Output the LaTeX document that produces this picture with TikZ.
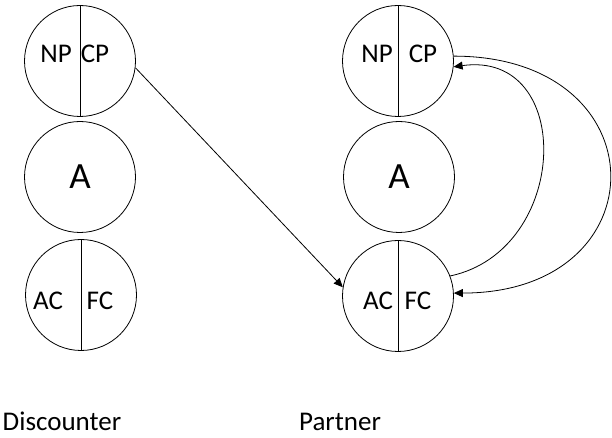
\documentclass[tikz,border=0pt]{standalone}
\usepackage{fontspec}
\setmainfont{Carlito}
\usepackage{tikz}
\usetikzlibrary{arrows.meta,positioning,shapes}

\begin{document}
\begin{tikzpicture}[x=1pt,y=1pt,line width=.8pt,
  ball/.style={draw,circle,minimum size=111pt,inner sep=0pt},
  lbl/.style={font=\fontsize{27}{30}\selectfont},
  big/.style={font=\fontsize{37}{40}\selectfont},
  flow/.style={-{Triangle[length=9pt,width=8pt]}}]
\useasboundingbox (0,0) rectangle (612,438);
% discounter
\node[ball] (dtop) at (80,377) {};
\node[ball,big] (dmid) at (80,261) {A};
\node[ball] (dbot) at (81,143) {};
\draw (dtop.north) -- (dtop.south);
\draw (dbot.north) -- (dbot.south);
\node[lbl] (dnp) at (56,384) {NP};
\node[lbl] (dcp) at (95,384) {CP};
\node[lbl] (dac) at (48,137) {AC};
\node[lbl] (dfc) at (100,137) {FC};
% partner
\node[ball] (ptop) at (398,377) {};
\node[ball,big] (pmid) at (399,261) {A};
\node[ball] (pbot) at (398,142) {};
\draw (ptop.north) -- (ptop.south);
\draw (pbot.north) -- (pbot.south);
\node[lbl] (pnp) at (377,384) {NP};
\node[lbl] (pcp) at (423,384) {CP};
\node[lbl] (pac) at (378,137) {AC};
\node[lbl] (pfc) at (418,137) {FC};
% names
\node[lbl,anchor=base] (disc) at (62,7) {Discounter};
\node[lbl,anchor=base] (part) at (340,7) {Partner};
% arrows
\draw[flow] (dtop.-7) -- (pbot.171);
\draw[flow] (pbot.21) to[out=12,in=8,looseness=1.5] (ptop.-6);
\draw[flow] (ptop.5) to[out=0,in=0,looseness=2.25] (pbot.3);
\end{tikzpicture}
\end{document}
